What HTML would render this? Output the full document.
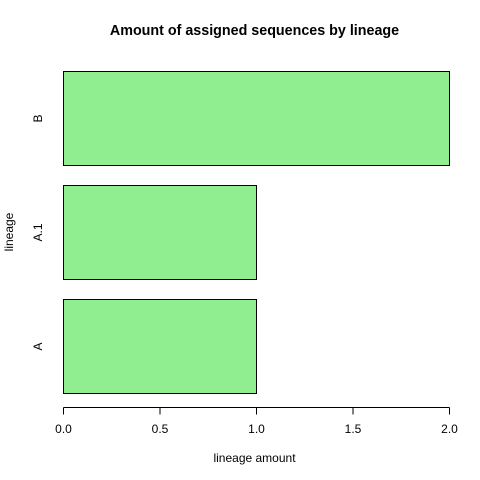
<!DOCTYPE html>
<html><head><meta charset="utf-8"><style>body{margin:0;background:#fff}svg{display:block;font-family:"Liberation Sans",sans-serif}</style></head>
<body>
<svg id="chart" width="480" height="480" viewBox="0 0 480 480">
<text x="254.5" y="35" text-anchor="middle" font-size="14.3" font-weight="bold">Amount of assigned sequences by lineage</text>
<text x="254.5" y="462" text-anchor="middle" font-size="12">lineage amount</text>
<text transform="translate(13,232) rotate(-90)" text-anchor="middle" font-size="12">lineage</text>
<g id="bars"></g><g id="xaxis"></g>
</svg>
<script>
const categories = ["A", "A.1", "B"];
const values = [1, 1, 2];
const xTicks = [0, 0.5, 1, 1.5, 2];
const xTickLabels = ["0.0", "0.5", "1.0", "1.5", "2.0"];
const NS = "http://www.w3.org/2000/svg";
const x = v => 63.5 + v * 193;
const y0 = 393.5, step = 114, bh = 94;
const bars = document.getElementById("bars");
categories.forEach((c, i) => {
  const bottom = y0 - i * step;
  const r = document.createElementNS(NS, "rect");
  r.setAttribute("x", x(0)); r.setAttribute("y", bottom - bh);
  r.setAttribute("width", x(values[i]) - x(0)); r.setAttribute("height", bh);
  r.setAttribute("fill", "#90ee90"); r.setAttribute("stroke", "#000");
  
  
  bars.appendChild(r);
  const t = document.createElementNS(NS, "text");
  t.setAttribute("transform", `translate(42,${bottom - bh / 2}) rotate(-90)`);
  t.setAttribute("text-anchor", "middle"); t.setAttribute("font-size", "12");
  t.textContent = c;
  
  
  bars.appendChild(t);
});
const ax = document.getElementById("xaxis");
const line = document.createElementNS(NS, "line");
line.setAttribute("x1", x(xTicks[0])); line.setAttribute("x2", x(xTicks[xTicks.length - 1]));
line.setAttribute("y1", 407.5); line.setAttribute("y2", 407.5); line.setAttribute("stroke", "#000");


ax.appendChild(line);
xTicks.forEach((v, i) => {
  const tk = document.createElementNS(NS, "line");
  tk.setAttribute("x1", x(v)); tk.setAttribute("x2", x(v));
  tk.setAttribute("y1", 407.5); tk.setAttribute("y2", 414.5); tk.setAttribute("stroke", "#000");
  
  
  ax.appendChild(tk);
  const t = document.createElementNS(NS, "text");
  t.setAttribute("x", x(v)); t.setAttribute("y", 433);
  t.setAttribute("text-anchor", "middle"); t.setAttribute("font-size", "12");
  t.textContent = xTickLabels[i];
  
  
  ax.appendChild(t);
});
</script>
</body></html>
